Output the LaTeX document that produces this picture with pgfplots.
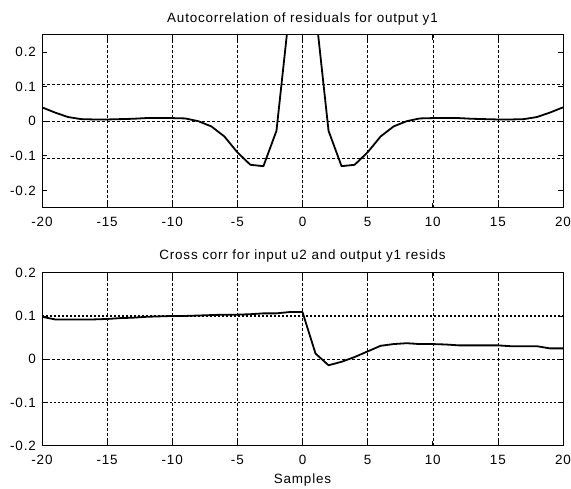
\documentclass[border=0pt]{standalone}
\usepackage{fontspec}
\setmainfont{Liberation Sans}[LetterSpace=6]
\usepackage{pgfplots}
\pgfplotsset{compat=1.18}

\newcommand{\mfont}{\fontsize{13.5}{16}\selectfont}

\pgfplotsset{mystyle/.style={
  scale only axis, width=521bp, height=173bp,
  xmin=-20, xmax=20, xtick={-20,-15,...,20},
  tick align=inside, major tick length=5bp,
  xmajorgrids,
  major grid style={black, line width=0.5bp, dash pattern=on 3bp off 2bp},
  axis line style={black, line width=0.6bp},
  every tick/.style={black, line width=0.6bp},
  tick label style={font=\mfont},
  /pgf/number format/assume math mode=true,
  /pgf/number format/fixed,
  xticklabel style={anchor=base, yshift=-19bp},
  yticklabel style={anchor=east, inner sep=0pt, xshift=-6bp},
  every axis title/.style={font=\mfont, at={(0.5,1)}, anchor=base, yshift=12bp},
  label style={font=\mfont},
}}

\begin{document}
\begin{tikzpicture}
\useasboundingbox (0,0) rectangle (571bp,489bp);

\begin{axis}[mystyle, at={(42bp,281.3bp)}, anchor=south west,
  ymin=-0.25, ymax=0.25, ytick={-0.2,-0.1,0,0.1,0.2},
  title={Autocorrelation of residuals for output y1}]
\addplot[black, line width=0.5bp, dash pattern=on 3bp off 2bp] coordinates {(-20,0.106)(20,0.106)};
\addplot[black, line width=0.5bp, dash pattern=on 3bp off 2bp] coordinates {(-20,0)(20,0)};
\addplot[black, line width=0.5bp, dash pattern=on 3bp off 2bp] coordinates {(-20,-0.106)(20,-0.106)};
\addplot[black, line width=1.8bp, line join=round] coordinates {
(-20,0.040)(-19,0.025)(-18,0.012)(-17,0.006)(-16,0.005)(-15,0.005)(-14,0.006)(-13,0.007)
(-12,0.009)(-11,0.009)(-10,0.009)(-9,0.008)(-8,0.000)(-7,-0.015)(-6,-0.044)(-5,-0.090)
(-4,-0.126)(-3,-0.130)(-2,-0.028)(-1,0.32)(0,1.0)
(1,0.32)(2,-0.028)(3,-0.130)(4,-0.126)(5,-0.090)(6,-0.044)(7,-0.015)(8,0.000)
(9,0.008)(10,0.009)(11,0.009)(12,0.009)(13,0.007)(14,0.006)(15,0.005)(16,0.005)
(17,0.006)(18,0.012)(19,0.025)(20,0.040)};
\end{axis}

\begin{axis}[mystyle, at={(42bp,43.3bp)}, anchor=south west,
  ymin=-0.2, ymax=0.2, ytick={-0.2,-0.1,0,0.1,0.2},
  title={Cross corr for input u2 and output y1 resids},
  title style={yshift=1bp},
  xlabel={Samples},
  xlabel style={at={(0.5,0)}, anchor=base, yshift=-37.6bp}]
\addplot[black, line width=1.8bp, dash pattern=on 2bp off 2bp] coordinates {(-20,0.1)(20,0.1)};
\addplot[black, line width=0.5bp, dash pattern=on 3bp off 2bp] coordinates {(-20,0)(20,0)};
\addplot[black, line width=1.8bp, dash pattern=on 2bp off 2bp] coordinates {(-20,-0.1)(20,-0.1)};
\addplot[black, line width=1.8bp, line join=round] coordinates {
(-20,0.098)(-19,0.092)(-18,0.092)(-17,0.092)(-16,0.092)(-15,0.093)(-14,0.095)(-13,0.096)
(-12,0.098)(-11,0.099)(-10,0.100)(-9,0.100)(-8,0.101)(-7,0.102)(-6,0.103)(-5,0.103)
(-4,0.104)(-3,0.106)(-2,0.106)(-1,0.109)(0,0.109)
(1,0.013)(2,-0.014)(3,-0.006)(4,0.005)(5,0.018)(6,0.031)(7,0.035)(8,0.037)
(9,0.035)(10,0.035)(11,0.034)(12,0.032)(13,0.032)(14,0.032)(15,0.032)(16,0.030)
(17,0.030)(18,0.030)(19,0.025)(20,0.025)};
\end{axis}
\end{tikzpicture}
\end{document}
